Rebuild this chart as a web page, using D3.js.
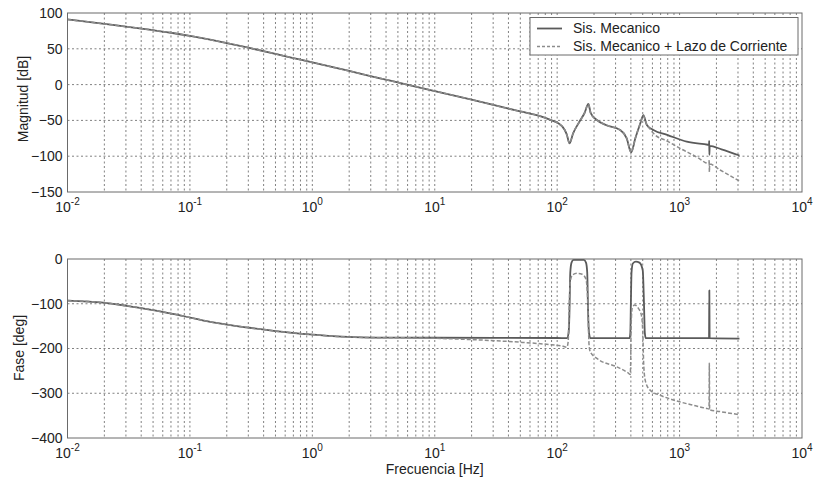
<!DOCTYPE html>
<html><head><meta charset="utf-8">
<script src="https://cdn.jsdelivr.net/npm/d3@7"></script>
<style>body{margin:0;background:#fff} text{font-family:"Liberation Sans",Arial,Helvetica,sans-serif;fill:#222}</style>
</head><body><svg id="c" width="813" height="483"></svg>
<script>
// ---------- data ----------
const xTickExps = [-2, -1, 0, 1, 2, 3, 4];
const magTicks = [100, 50, 0, -50, -100, -150];
const phaseTicks = [0, -100, -200, -300, -400];
const seriesNames = ["Sis. Mecanico", "Sis. Mecanico + Lazo de Corriente"];

// Magnitude [dB] - Sis. Mecanico
const mechMagFreq = [0.01,0.02,0.03,0.05,0.07,0.1,0.15,0.2,0.3,0.5,0.7,1,1.5,2,3.5,5.7,10,20,38.7,50,72.5,90,102,115,120,126,135,152,167,180,188,211,250,327,370,402,435,478,506,540,611,800,1145,1700,1740,1745,1752,1760,2200,3085];
const mechMag     = [91,84.8,81.1,76,72.4,68,62.4,58,51.5,42.9,37.1,31,24,19,9.2,0.8,-9,-21,-33,-37.5,-44,-50,-54,-63,-70,-82,-68,-51.8,-40,-27,-40,-49.4,-56.4,-63.4,-75,-94.6,-75,-54,-42.5,-56.4,-63.4,-70.5,-79.7,-84,-84.3,-78.5,-98,-85.5,-90.5,-99];

// Magnitude [dB] - Sis. Mecanico + Lazo de Corriente
const loopMagFreq = [0.01,0.02,0.03,0.05,0.07,0.1,0.15,0.2,0.3,0.5,0.7,1,1.5,2,3.5,5.7,10,20,38.7,50,72.5,90,102,115,120,126,135,152,167,180,188,211,250,327,370,402,435,478,506,540,574,611,800,1009,1469,1650,1740,1745,1752,1760,2143,3085];
const loopMag     = [91,84.8,81.1,76,72.4,68,62.4,58,51.5,42.9,37.1,31,24,19,9.2,0.8,-9,-21,-33,-37.5,-44,-50,-54,-63,-70,-82,-68,-51.8,-40,-27,-40,-49.4,-56.4,-63.4,-75,-94.6,-75,-54,-44,-56,-62,-68,-79.3,-89,-104,-109.5,-110.5,-105.3,-122,-111,-119.3,-134.6];

// Phase [deg] - Sis. Mecanico
const mechPhFreq = [0.01,0.0195,0.0295,0.05,0.083,0.15,0.291,0.5,1.02,1.58,3,10,100,120,124,126,128,131,136,165,172,176,179,182,187,390,396,400,405,415,440,470,500,512,520,530,1740,1750,1760,3085];
const mechPhase  = [-93,-97.5,-104,-114,-126,-141,-153,-161,-169,-173,-175.5,-176,-176.5,-177,-165,-120,-30,-8,-2,-2,-8,-30,-120,-165,-177,-177,-165,-100,-30,-10,-6,-8,-25,-100,-165,-177,-177,-70,-177,-178];

// Phase [deg] - Sis. Mecanico + Lazo de Corriente
const loopPhFreq = [0.01,0.0195,0.0295,0.05,0.083,0.15,0.291,0.5,1.02,1.58,3,7.6,23.5,50,82,110,120,123,125,128,133,145,160,172,178,182,186,211,307,382,395,398,402,410,430,460,487,500,510,527,574,700,889,1300,1667,1740,1750,1760,2143,3085];
const loopPhase  = [-93,-97.5,-104,-114,-126,-141,-153,-161,-169,-173,-175.5,-176.5,-181,-186,-190.6,-194.5,-197,-185,-120,-50,-36,-32,-34,-45,-100,-190,-207,-222,-241,-255,-258,-240,-150,-110,-103,-110,-125,-160,-240,-274,-293,-305,-315,-327,-334,-335,-233,-337,-341,-348];

// ---------- layout ----------
const svg = d3.select("#c");
const L = 67.5, R = 802;
const x = d3.scaleLog().domain([1e-2, 1e4]).range([L, R]);
const yMag = d3.scaleLinear().domain([-150, 100]).range([192, 13]);
const yPh = d3.scaleLinear().domain([-400, 0]).range([438, 259]);

const minorVals = [];
for (let e = -2; e < 4; e++) for (let k = 1; k <= 9; k++) minorVals.push(k * Math.pow(10, e));

const solidStyle = {stroke: "#5a5a5a", w: 1.8, dash: null};
const dashStyle = {stroke: "#8c8c8c", w: 1.5, dash: "4,2"};
const gridColor = "#4a4a4a", gridDash = "2,2.5";

function zip(f, v) { return f.map((d, i) => ({f: d, v: v[i]})); }

function panel(y, ticks, label, labelX, labelY, series) {
  const [y0, y1] = y.range(); // bottom, top
  const g = svg.append("g");
  g.selectAll("line.vg").data(minorVals.filter(v => v > 1e-2 && v < 1e4)).enter()
    .append("line").attr("x1", d => x(d)).attr("x2", d => x(d))
    .attr("y1", y1).attr("y2", y0)
    .attr("stroke", gridColor).attr("stroke-width", 0.7).attr("stroke-dasharray", gridDash);
  const dom = y.domain();
  g.selectAll("line.hg").data(ticks.filter(t => t > dom[0] && t < dom[1])).enter()
    .append("line").attr("x1", L).attr("x2", R)
    .attr("y1", d => y(d)).attr("y2", d => y(d))
    .attr("stroke", gridColor).attr("stroke-width", 0.7).attr("stroke-dasharray", gridDash);
  const line = d3.line().x(d => x(d.f)).y(d => y(d.v)).curve(d3.curveMonotoneX);
  series.forEach(s => {
    g.append("path").datum(s.data).attr("d", line)
      .attr("fill", "none").attr("stroke", s.style.stroke)
      .attr("stroke-width", s.style.w).attr("stroke-linejoin", "round")
      .attr("stroke-dasharray", s.style.dash);
  });
  g.append("rect").attr("x", L).attr("y", y1).attr("width", R - L).attr("height", y0 - y1)
    .attr("fill", "none").attr("stroke", "#6a6a6a").attr("stroke-width", 1);
  const ax = d3.axisLeft(y).tickValues(ticks).tickSize(0).tickPadding(4.5);
  const ga = g.append("g").attr("transform", `translate(${L - 0.5},0)`).call(ax);
  ga.select(".domain").remove();
  ga.selectAll("text").style("font-size", "14px").attr("fill", "#222")
    .style("font-family", '"Liberation Sans",Arial,sans-serif');
  const xl = g.selectAll("text.xl").data(xTickExps).enter().append("text")
    .attr("x", d => x(Math.pow(10, d))).attr("y", y0 + 19.5)
    .attr("text-anchor", "middle").style("font-size", "14px");
  xl.append("tspan").text("10");
  xl.append("tspan").attr("dy", -7).style("font-size", "10px").text(d => String(d));
  svg.append("text").attr("transform", `translate(${labelX},${labelY}) rotate(-90)`)
    .attr("text-anchor", "middle").style("font-size", "14px").text(label);
  return g;
}

panel(yMag, magTicks, "Magnitud [dB]", 28, 99, [
  {data: zip(mechMagFreq, mechMag), style: solidStyle},
  {data: zip(loopMagFreq, loopMag), style: dashStyle}
]);
panel(yPh, phaseTicks, "Fase [deg]", 24, 348, [
  {data: zip(mechPhFreq, mechPhase), style: solidStyle},
  {data: zip(loopPhFreq, loopPhase), style: dashStyle}
]);

svg.append("text").attr("x", (L + R) / 2).attr("y", 474).attr("text-anchor", "middle")
  .style("font-size", "14px").text("Frecuencia [Hz]");

const lg = svg.append("g");
lg.append("rect").attr("x", 530).attr("y", 17.5).attr("width", 268).attr("height", 37.5)
  .attr("fill", "#fff").attr("stroke", "#6a6a6a").attr("stroke-width", 1);
const legStyles = [solidStyle, {stroke: "#8c8c8c", w: 1.5, dash: "3,2"}];
seriesNames.forEach((n, i) => {
  const yy = 28.5 + i * 18;
  lg.append("line").attr("x1", 537).attr("x2", 562).attr("y1", yy).attr("y2", yy)
    .attr("stroke", legStyles[i].stroke).attr("stroke-width", legStyles[i].w)
    .attr("stroke-dasharray", legStyles[i].dash);
  lg.append("text").attr("x", 573).attr("y", yy + 4.8).style("font-size", "14px").text(n);
});
</script></body></html>
